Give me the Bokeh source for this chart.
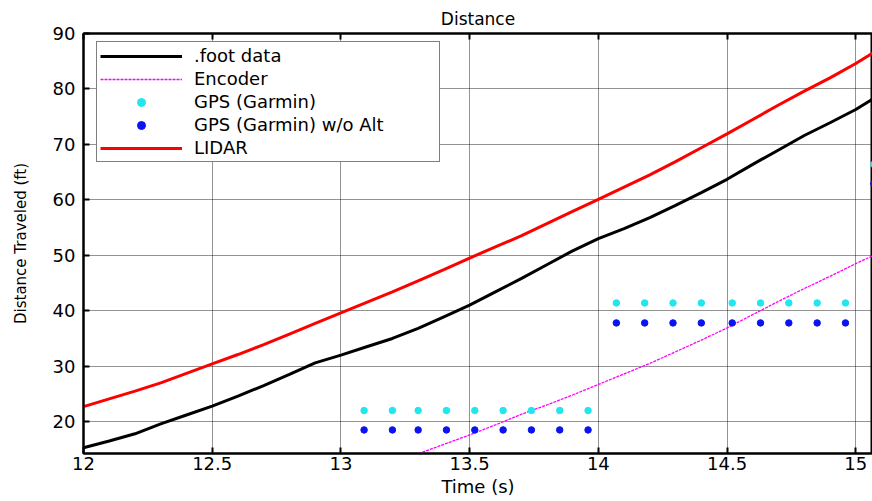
from bokeh.plotting import figure
from bokeh.models import Range1d, LinearAxis, Legend, LegendItem, FixedTicker
from bokeh.embed import file_html
from bokeh.resources import INLINE

# ---- data ----
foot_t = [12.0, 12.1, 12.2, 12.3, 12.4, 12.5, 12.6, 12.7, 12.8, 12.9, 13.0, 13.1, 13.2, 13.3, 13.4,
          13.5, 13.6, 13.7, 13.8, 13.9, 14.0, 14.1, 14.2, 14.3, 14.4, 14.5, 14.6, 14.7, 14.8, 14.9,
          15.0, 15.07]
foot_d = [15.3, 16.5, 17.8, 19.6, 21.2, 22.8, 24.6, 26.5, 28.5, 30.6, 32.0, 33.5, 35.0, 36.8, 38.9,
          41.0, 43.4, 45.8, 48.3, 50.8, 53.0, 54.8, 56.8, 59.0, 61.3, 63.7, 66.4, 69.0, 71.6, 73.9,
          76.3, 78.3]

enc_t = [13.2, 13.3, 13.4, 13.5, 13.6, 13.7, 13.8, 13.9, 14.0, 14.1, 14.2, 14.3, 14.4, 14.5,
         14.6, 14.7, 14.8, 14.9, 15.0, 15.07]
enc_d = [12.5, 14.2, 15.9, 17.6, 19.4, 21.3, 23.0, 24.8, 26.7, 28.6, 30.5, 32.6, 34.7, 36.9,
         39.3, 41.7, 44.0, 46.2, 48.5, 50.0]

gps_t = [13.09, 13.20, 13.30, 13.41, 13.52, 13.63, 13.74, 13.85, 13.96,
         14.07, 14.18, 14.29, 14.40, 14.52, 14.63, 14.74, 14.85, 14.96, 15.07]
gps_d = [22.0, 22.0, 22.0, 22.0, 22.0, 22.0, 22.0, 22.0, 22.0,
         41.4, 41.4, 41.4, 41.4, 41.4, 41.4, 41.4, 41.4, 41.4, 66.4]
gps_noalt_d = [18.5, 18.5, 18.5, 18.5, 18.5, 18.5, 18.5, 18.5, 18.5,
               37.8, 37.8, 37.8, 37.8, 37.8, 37.8, 37.8, 37.8, 37.8, 62.9]

lidar_t = foot_t
lidar_d = [22.7, 24.1, 25.5, 27.0, 28.7, 30.4, 32.1, 33.9, 35.8, 37.7, 39.6, 41.5, 43.4, 45.4, 47.4,
           49.5, 51.5, 53.5, 55.7, 57.9, 60.1, 62.3, 64.5, 66.9, 69.4, 71.9, 74.5, 77.1, 79.6, 82.0,
           84.6, 86.6]

x_ticks = [12, 12.5, 13, 13.5, 14, 14.5, 15]
y_ticks = [20, 30, 40, 50, 60, 70, 80, 90]

FONT = "DejaVu Sans"

p = figure(width=872, height=501, output_backend="svg", toolbar_location=None,
           x_range=Range1d(12, 15.065), y_range=Range1d(14.25, 90),
           min_border_left=83, min_border_right=0, min_border_top=33, min_border_bottom=48,
           x_axis_label="Time (s)", y_axis_label="Distance Traveled (ft)")

p.title.text = "Distance"
p.title.align = "center"
p.title.text_font = FONT
p.title.text_font_size = "17px"
p.title.text_font_style = "normal"
p.title.text_color = "black"

p.outline_line_color = "black"
p.outline_line_width = 2
p.background_fill_color = "white"
p.border_fill_color = "white"

p.xaxis.ticker = FixedTicker(ticks=x_ticks)
p.yaxis.ticker = FixedTicker(ticks=y_ticks)
for ax in p.xaxis + p.yaxis:
    ax.major_tick_in = 6
    ax.major_tick_out = 0
    ax.minor_tick_line_color = None
    ax.axis_line_width = 2
    ax.axis_line_color = "black"
    ax.major_tick_line_color = "black"
    ax.major_tick_line_width = 2
    ax.major_label_text_font = FONT
    ax.major_label_text_font_size = "18px"
    ax.major_label_text_color = "black"
    ax.axis_label_text_font = FONT
    ax.axis_label_text_font_style = "normal"
    ax.axis_label_text_color = "black"
p.xaxis.major_label_standoff = 3
p.xaxis.axis_label_standoff = 3
p.xaxis.axis_label_text_font_size = "18px"
p.yaxis.major_label_standoff = 8
p.yaxis.axis_label_standoff = 20
p.yaxis.axis_label_text_font_size = "15px"

top_ax = LinearAxis(ticker=FixedTicker(ticks=x_ticks), major_label_text_font_size="0px",
                    major_label_text_color=None,
                    major_tick_in=6, major_tick_out=0, minor_tick_line_color=None,
                    axis_line_width=2, major_tick_line_width=2, major_label_standoff=0)
p.add_layout(top_ax, "above")

p.grid.grid_line_color = "black"
p.grid.grid_line_dash = "1 1"
p.grid.grid_line_alpha = 0.85
p.grid.grid_line_width = 1
p.xgrid.ticker = FixedTicker(ticks=x_ticks)
p.ygrid.ticker = FixedTicker(ticks=y_ticks)

r_foot = p.line(foot_t, foot_d, line_color="black", line_width=3)
r_enc = p.line(enc_t, enc_d, line_color="#FF00FF", line_width=1.3, line_dash="3 1")
r_gps = p.scatter(gps_t, gps_d, marker="circle", size=6.5, fill_color="#22E6EE", line_color="#22E6EE")
r_gps2 = p.scatter(gps_t, gps_noalt_d, marker="circle", size=6.5, fill_color="#0A14F0", line_color="#0A14F0")
r_lidar = p.line(lidar_t, lidar_d, line_color="#FF0000", line_width=3)

legend = Legend(items=[
    LegendItem(label=".foot data", renderers=[r_foot]),
    LegendItem(label="Encoder", renderers=[r_enc]),
    LegendItem(label="GPS (Garmin)", renderers=[r_gps]),
    LegendItem(label="GPS (Garmin) w/o Alt", renderers=[r_gps2]),
    LegendItem(label="LIDAR", renderers=[r_lidar]),
], location=(13, 291))
legend.padding = 3
legend.spacing = 2
legend.glyph_height = 20
legend.label_height = 20
legend.glyph_width = 82
legend.label_standoff = 12
legend.label_width = 242
legend.margin = 0
legend.border_line_color = "black"
legend.border_line_width = 1.5
legend.background_fill_color = "white"
legend.background_fill_alpha = 1
legend.label_text_font = FONT
legend.label_text_font_size = "18px"
legend.label_text_color = "black"
p.add_layout(legend, "center")

open("out.html", "w").write(file_html(p, INLINE))
